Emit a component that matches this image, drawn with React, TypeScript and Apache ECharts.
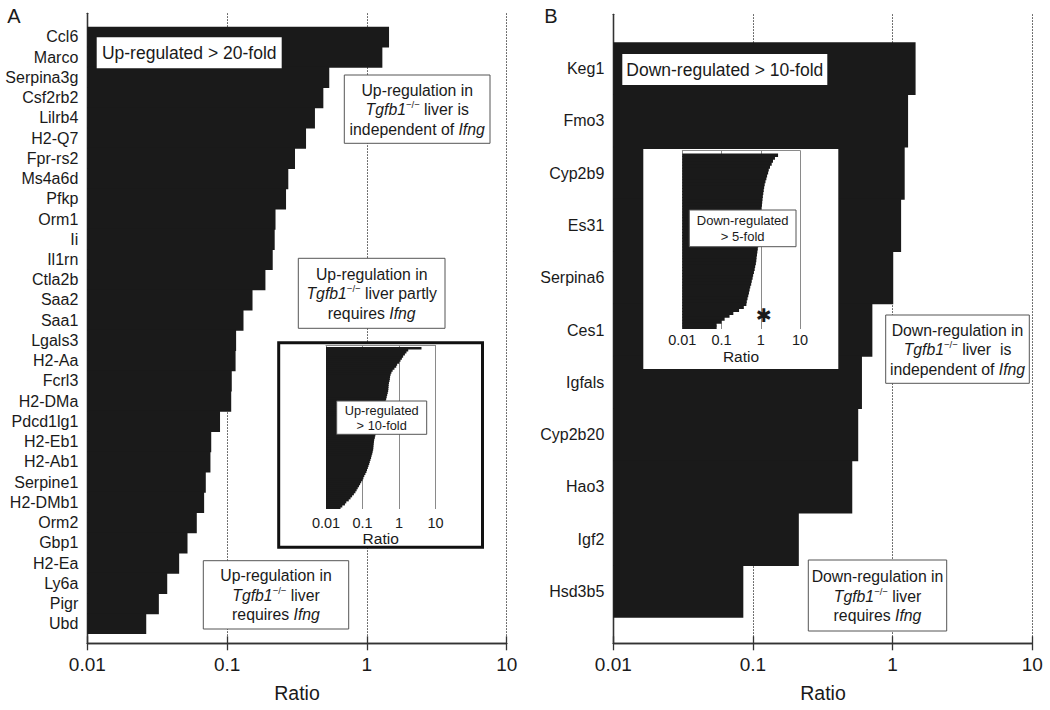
import React, { useEffect, useRef } from "react";
import * as echarts from "echarts";

const FONT = '"Liberation Sans", Arial, Helvetica, sans-serif';
const INK = "#1a1a1a";

// Panel A: up-regulated > 20-fold
const genesA = ["Ccl6", "Marco", "Serpina3g", "Csf2rb2", "Lilrb4", "H2-Q7", "Fpr-rs2", "Ms4a6d", "Pfkp", "Orm1", "Ii", "Il1rn", "Ctla2b", "Saa2", "Saa1", "Lgals3", "H2-Aa", "Fcrl3", "H2-DMa", "Pdcd1lg1", "H2-Eb1", "H2-Ab1", "Serpine1", "H2-DMb1", "Orm2", "Gbp1", "H2-Ea", "Ly6a", "Pigr", "Ubd"];
const ratioA = [1.44, 1.29, 0.538, 0.488, 0.425, 0.367, 0.306, 0.274, 0.264, 0.222, 0.219, 0.212, 0.188, 0.152, 0.131, 0.116, 0.115, 0.108, 0.107, 0.089, 0.077, 0.076, 0.0704, 0.0685, 0.0607, 0.0521, 0.0454, 0.0373, 0.0325, 0.0264];

// Inset A: up-regulated > 10-fold (profile)
const ratioInsetA = [4.13, 1.79, 1.6, 1.45, 1.3, 1.2, 1.1, 1.01, 0.89, 0.84, 0.75, 0.67, 0.62, 0.59, 0.57, 0.56, 0.55, 0.53, 0.52, 0.515, 0.51, 0.505, 0.49, 0.475, 0.46, 0.445, 0.43, 0.41, 0.385, 0.37, 0.35, 0.33, 0.31, 0.3, 0.29, 0.285, 0.275, 0.27, 0.26, 0.25, 0.245, 0.24, 0.233, 0.225, 0.218, 0.21, 0.206, 0.203, 0.2, 0.198, 0.196, 0.19, 0.185, 0.178, 0.172, 0.165, 0.158, 0.153, 0.146, 0.14, 0.133, 0.128, 0.12, 0.112, 0.106, 0.1, 0.092, 0.086, 0.08, 0.074, 0.069, 0.064, 0.058, 0.052, 0.047, 0.042, 0.036, 0.033, 0.028, 0.025];

// Panel B: down-regulated > 10-fold
const genesB = ["Keg1", "Fmo3", "Cyp2b9", "Es31", "Serpina6", "Ces1", "Igfals", "Cyp2b20", "Hao3", "Igf2", "Hsd3b5"];
const ratioB = [1.46, 1.29, 1.22, 1.15, 1.01, 0.716, 0.603, 0.567, 0.514, 0.213, 0.0853];

// Inset B: down-regulated > 5-fold
const ratioInsetB = [2.76, 2.3, 2.05, 1.9, 1.72, 1.6, 1.54, 1.45, 1.39, 1.32, 1.26, 1.22, 1.19, 1.16, 1.13, 1.11, 1.09, 1.07, 1.03, 1.0, 0.98, 0.97, 0.96, 0.95, 0.94, 0.93, 0.92, 0.91, 0.9, 0.88, 0.87, 0.86, 0.84, 0.82, 0.8, 0.78, 0.77, 0.75, 0.72, 0.7, 0.67, 0.64, 0.62, 0.59, 0.57, 0.54, 0.52, 0.5, 0.48, 0.46, 0.44, 0.43, 0.37, 0.28, 0.2, 0.16, 0.12, 0.1, 0.075, 0.075];

const tickLabels = ["0.01", "0.1", "1", "10"];

const toDecades = (v: number) => Math.log10(v / 0.01);

export default function App() {
  const ref = useRef<HTMLDivElement>(null);
  useEffect(() => {
    const chart = echarts.init(ref.current!, null, { renderer: "svg" });

    const W = 1050, H = 710;
    const grid = (l: number, r: number, t: number, b: number) => ({
      left: l, right: W - r, top: t, bottom: H - b, containLabel: false,
    });

    const frameLine = { color: "#333", width: 1.3 };
    const dotted = { color: "#444", width: 1, type: [1.5, 1.5] as any };
    const insetGrid = { color: "#8a8a8a", width: 1 };

    const fmt = (v: number) => tickLabels[Math.round(v)] ?? "";

    const frameXBottom = (gi: number) => ({
      type: "value", gridIndex: gi, min: 0, max: 3, interval: 1, position: "bottom",
      axisLine: { show: true, lineStyle: frameLine },
      axisTick: { show: true, inside: false, length: 7, lineStyle: frameLine },
      axisLabel: { show: true, formatter: fmt, fontSize: 19, color: INK, margin: 12, fontFamily: FONT, showMinLabel: true, showMaxLabel: true },
      splitLine: { show: true, lineStyle: dotted },
    });
    const frameXTop = (gi: number) => ({
      type: "value", gridIndex: gi, min: 0, max: 3, interval: 1, position: "top",
      axisLine: { show: true, lineStyle: frameLine },
      axisTick: { show: true, inside: false, length: 7, lineStyle: frameLine },
      axisLabel: { show: false }, splitLine: { show: false },
    });
    const hiddenX = (gi: number) => ({ type: "value", gridIndex: gi, min: 0, max: 3, show: false });
    const frameY = (gi: number, pos: string) => ({
      type: "value", gridIndex: gi, min: 0, max: 1, position: pos,
      axisLine: { show: true, lineStyle: frameLine },
      axisTick: { show: false }, axisLabel: { show: false }, splitLine: { show: false },
    });
    const insetXBottom = (gi: number, margin: number) => ({
      type: "value", gridIndex: gi, min: 0, max: 3, interval: 1, position: "bottom", z: 12,
      axisLine: { show: false }, axisTick: { show: false },
      axisLabel: { show: true, formatter: fmt, fontSize: 14.5, color: INK, margin, fontFamily: FONT, showMinLabel: true, showMaxLabel: true },
      splitLine: { show: true, lineStyle: insetGrid },
    });
    const insetXTop = (gi: number) => ({
      type: "value", gridIndex: gi, min: 0, max: 3, interval: 1, position: "top", z: 12,
      axisLine: { show: true, lineStyle: insetGrid }, axisTick: { show: false },
      axisLabel: { show: false }, splitLine: { show: false },
    });
    const catY = (gi: number, data: string[], showLabels: boolean) => ({
      type: "category", gridIndex: gi, data, inverse: true,
      show: showLabels,
      axisLine: { show: false }, axisTick: { show: false },
      axisLabel: { show: showLabels, interval: 0, fontSize: 16, color: INK, margin: 9, fontFamily: FONT },
      splitLine: { show: false },
    });
    const idx = (arr: number[]) => arr.map((_, i) => String(i));
    // bar thickness: one band of the category axis plus 1px overlap, so that neighbours join without seams
    const barSeries = (xi: number, yi: number, vals: number[], z: number, top: number, bottom: number) => ({
      type: "bar", xAxisIndex: xi, yAxisIndex: yi, data: vals.map(toDecades),
      barWidth: (bottom - top) / vals.length + 1, z, silent: true,
      itemStyle: { color: INK },
    });

    const rich = {
      i: { fontStyle: "italic", fontFamily: FONT, fontSize: 15.8, fill: INK } as any,
      s: { fontFamily: FONT, fontSize: 9.5, verticalAlign: "top", fill: INK } as any,
    };
    const tg = "{i|Tgfb1}{s|\u2212/\u2212}";

    const box = (x0: number, y0: number, x1: number, y1: number, stroke: boolean, z: number) => ({
      type: "rect", z, silent: true,
      shape: { x: x0, y: y0, width: x1 - x0, height: y1 - y0 },
      style: { fill: "#fff", stroke: stroke ? "#555" : null, lineWidth: stroke ? 1 : 0 },
    });
    const text = (x: number, y: number, t: string, fontSize: number, z: number, lineHeight?: number, extra: any = {}) => ({
      type: "text", z, silent: true, x, y,
      style: {
        text: t, fontSize, fontFamily: FONT, fill: INK, align: "center", verticalAlign: "middle",
        lineHeight: lineHeight ?? fontSize * 1.2, rich, ...extra,
      },
    });

    const graphics: any[] = [
      // panel letters
      text(14, 16, "A", 20, 10, 22),
      text(551, 16, "B", 20, 10, 22),
      // main axis titles
      text(297, 693, "Ratio", 19.5, 10),
      text(823, 693, "Ratio", 19.5, 10),
      // Panel A annotations
      box(96.7, 37.3, 281.7, 68.3, false, 10),
      text(189.2, 53, "Up-regulated > 20-fold", 17.5, 11),
      box(344.3, 75, 490, 143.3, true, 10),
      text(417.2, 109.5, "Up-regulation in\n" + tg + " liver is\nindependent of {i|Ifng}", 15.8, 11, 19.5),
      box(298.3, 258.3, 445, 328.3, true, 10),
      text(371.7, 293.5, "Up-regulation in\n" + tg + " liver partly\nrequires {i|Ifng}", 15.8, 11, 19.5),
      box(203.3, 560.7, 348.7, 629, true, 10),
      text(276, 595, "Up-regulation in\n" + tg + " liver\nrequires {i|Ifng}", 15.8, 11, 19.5),
      // Inset A
      {
        type: "rect", z: 11, silent: true,
        shape: { x: 278.7, y: 342.8, width: 203.8, height: 204.4 },
        style: { fill: "#fff", stroke: "#111", lineWidth: 3 },
      },
      box(336.7, 401, 426.7, 434.3, true, 16),
      text(381.7, 418, "Up-regulated\n> 10-fold", 12.8, 17, 15.5),
      text(380.7, 538.3, "Ratio", 15.5, 17),
      // Panel B annotations
      box(622.3, 54, 827.3, 85, false, 10),
      text(724.8, 70, "Down-regulated > 10-fold", 17.5, 11),
      box(885.7, 315, 1029.3, 383.3, true, 10),
      text(957.5, 349.5, "Down-regulation in\n" + tg + " liver  is\nindependent of {i|Ifng}", 15.8, 11, 19.5),
      box(808.3, 560, 946.7, 631, true, 10),
      text(877.5, 596, "Down-regulation in\n" + tg + " liver\nrequires {i|Ifng}", 15.8, 11, 19.5),
      // Inset B
      box(643.3, 149, 838.3, 369, false, 11),
      box(689.3, 210, 796, 246.7, true, 16),
      text(742.7, 228.5, "Down-regulated\n> 5-fold", 13, 17, 16),
      text(741, 356.7, "Ratio", 15.5, 17),
      text(764, 315, "\u2731", 19, 17, 18, { fontFamily: '"DejaVu Sans", sans-serif' }),
    ];

    chart.setOption({
      animation: false,
      textStyle: { fontFamily: FONT },
      grid: [
        grid(87.3, 506.7, 13.3, 643.3),   // 0 A frame
        grid(87.3, 506.7, 26.7, 634),     // 1 A bars
        grid(326, 435.5, 345, 509),       // 2 A inset frame
        grid(326, 435.5, 347, 509),       // 3 A inset bars
        grid(613.3, 1032.3, 14.3, 643.3), // 4 B frame
        grid(613.3, 1032.3, 42.3, 617.7), // 5 B bars
        grid(682.3, 800, 150.5, 329),     // 6 B inset frame
        grid(682.3, 800, 153.5, 329),     // 7 B inset bars
      ],
      xAxis: [
        frameXBottom(0), frameXTop(0), hiddenX(1),
        insetXBottom(2, 6), insetXTop(2), hiddenX(3),
        frameXBottom(4), frameXTop(4), hiddenX(5),
        insetXBottom(6, 3), insetXTop(6), hiddenX(7),
      ],
      yAxis: [
        frameY(0, "left"), frameY(0, "right"), catY(1, genesA, true),
        { type: "value", gridIndex: 2, show: false }, catY(3, idx(ratioInsetA), false),
        frameY(4, "left"), frameY(4, "right"), catY(5, genesB, true),
        { type: "value", gridIndex: 6, show: false }, catY(7, idx(ratioInsetB), false),
      ],
      series: [
        barSeries(2, 2, ratioA, 2, 26.7, 634),
        barSeries(5, 4, ratioInsetA, 14, 347, 509),
        barSeries(8, 7, ratioB, 2, 42.3, 617.7),
        barSeries(11, 9, ratioInsetB, 14, 153.5, 329),
      ],
      graphic: { elements: graphics },
    });

    return () => chart.dispose();
  }, []);

  return (
    <div
      ref={ref}
      style={{ position: "fixed", left: 0, top: 0, width: 1050, height: 710, background: "#fff" }}
    />
  );
}
